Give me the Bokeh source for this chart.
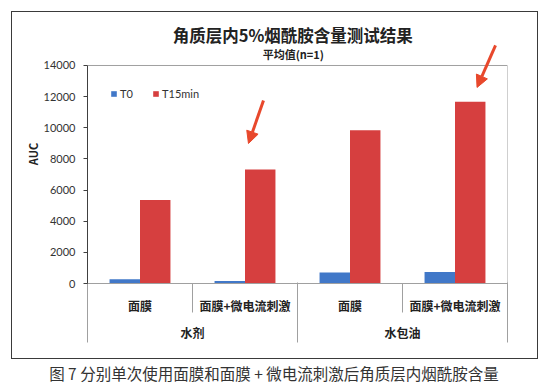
from bokeh.plotting import figure
from bokeh.models import (Range1d, LinearAxis, FixedTicker, Label, Legend, LegendItem,
                          Arrow, NormalHead, ColumnDataSource, InlineStyleSheet)
from bokeh.transform import dodge
from bokeh.embed import file_html
from bokeh.resources import INLINE

# ---------------- data ----------------
groups = ["水剂", "水包油"]
categories = ["面膜", "面膜+微电流刺激", "面膜", "面膜+微电流刺激"]
series_names = ["T0", "T15min"]
t0_values = [280, 160, 700, 740]
t15_values = [5370, 7320, 9840, 11670]
y_ticks = [0, 2000, 4000, 6000, 8000, 10000, 12000, 14000]
title_text = "角质层内5%烟酰胺含量测试结果"
subtitle_text = "平均值(n=1)"
y_label = "AUC"
caption_text = "图 7  分别单次使用面膜和面膜 + 微电流刺激后角质层内烟酰胺含量"
arrow_categories = [1, 3]

# ---------------- style ----------------
CJK = "Noto Sans CJK SC"
NUM = "Lato"
BLUE = "#4178c8"
RED = "#d63f3f"
ARROW = "#e8482c"
GRAY = "#a0a0a0"
DARK = "#404040"

n = len(categories)
y_max = y_ticks[-1]
y_top = y_max * 1.188           # headroom above the axis end (titles / arrow)
x_center = [i + 0.5 for i in range(n)]
src = ColumnDataSource(dict(x=x_center, t0=t0_values, t15=t15_values))

p = figure(width=545, height=387, x_range=Range1d(0, n), y_range=Range1d(0, y_top),
           output_backend="svg", toolbar_location=None,
           x_axis_location=None, y_axis_location=None,
           min_border_left=87, min_border_right=38, min_border_top=24, min_border_bottom=104)
p.xgrid.visible = False
p.ygrid.visible = False
p.outline_line_color = None
p.background_fill_color = "white"
p.border_fill_color = "white"

# outer chart frame
p.stylesheets = [InlineStyleSheet(css="""
:host { position: relative; }
:host::after { content: ""; position: absolute; left: 11px; top: 11px; width: 527px;
  height: 348px; border: 1.5px solid #3a3a3a; box-sizing: border-box; pointer-events: none; }
""")]

# plot-area border (top and right), ending at the axis maximum
p.segment(x0=[0, n], y0=[y_max, 0], x1=[n, n], y1=[y_max, y_max],
          line_color=GRAY, line_width=1)

bw = 0.29
r0 = p.vbar(x=dodge("x", -bw / 2, range=p.x_range), top="t0", width=bw, source=src,
            fill_color=BLUE, line_color=None)
r1 = p.vbar(x=dodge("x", bw / 2, range=p.x_range), top="t15", width=bw, source=src,
            fill_color=RED, line_color=None)

# y axis
yax = LinearAxis(ticker=FixedTicker(ticks=y_ticks), bounds=(0, y_max), axis_label=y_label,
                 axis_label_text_font=CJK, axis_label_text_font_style="bold",
                 axis_label_text_font_size="11px", axis_label_text_color="#222222",
                 axis_label_standoff=0,
                 major_label_text_font=NUM, major_label_text_font_size="11px",
                 major_label_text_color="#333333", major_label_standoff=8,
                 major_tick_in=0, major_tick_out=4, minor_tick_line_color=None,
                 axis_line_color=DARK, major_tick_line_color=DARK)
p.add_layout(yax, "left")

# category axis (inner dividers as minor ticks)
xax1 = LinearAxis(ticker=FixedTicker(ticks=x_center, minor_ticks=[1, 3]),
                  major_label_overrides={x: c for x, c in zip(x_center, categories)},
                  major_tick_in=0, major_tick_out=0,
                  minor_tick_in=0, minor_tick_out=29, minor_tick_line_color=GRAY,
                  axis_line_color=GRAY,
                  major_label_text_font=CJK, major_label_text_font_size="12px",
                  major_label_text_font_style="bold", major_label_text_color="#222222",
                  major_label_standoff=-16)
p.add_layout(xax1, "below")

# group axis (outer dividers as minor ticks)
g_centers = [1 + 2 * i for i in range(len(groups))]
xax2 = LinearAxis(ticker=FixedTicker(ticks=g_centers, minor_ticks=[0, 2, 4]),
                  major_label_overrides={x: g for x, g in zip(g_centers, groups)},
                  major_tick_in=0, major_tick_out=0,
                  minor_tick_in=34, minor_tick_out=26, minor_tick_line_color=GRAY,
                  axis_line_color=None,
                  major_label_text_font=CJK, major_label_text_font_size="12px",
                  major_label_text_font_style="bold", major_label_text_color="#222222",
                  major_label_standoff=-19)
p.add_layout(xax2, "below")

# caption (as a tick label of a bare axis below the chart)
cap_x = n * 0.448
xax3 = LinearAxis(ticker=FixedTicker(ticks=[cap_x]),
                  major_label_overrides={cap_x: caption_text},
                  major_tick_in=0, major_tick_out=0, minor_tick_line_color=None,
                  axis_line_color=None, major_tick_line_color=None,
                  major_label_text_font=CJK, major_label_text_font_size="15.5px",
                  major_label_text_color="#333333", major_label_standoff=18)
p.add_layout(xax3, "below")

# titles (inside the headroom of the plot area)
p.add_layout(Label(x=n / 2 - 0.045, y=y_max * 1.1376, text=title_text, text_align="center",
                   text_baseline="middle", text_font=CJK, text_font_size="16.5px",
                   text_font_style="bold", text_color="#222222"))
p.add_layout(Label(x=n / 2 - 0.04, y=y_max * 1.0505, text=subtitle_text, text_align="center",
                   text_baseline="middle", text_font=CJK, text_font_size="11px",
                   text_font_style="bold", text_color="#222222"))

# legend
legend = Legend(items=[LegendItem(label=series_names[0], renderers=[r0]),
                       LegendItem(label=series_names[1], renderers=[r1])],
                location=(23, 183), orientation="horizontal",
                label_text_font=NUM, label_text_font_size="11px", label_text_color="#333333",
                glyph_width=7, glyph_height=7, label_standoff=3, spacing=12,
                margin=0, padding=0, border_line_color=None, background_fill_alpha=0)
p.add_layout(legend)

# arrows (annotation pointing at the highlighted bars)
arrow_style = [(0.033, 1670, 0.176, 4430), (0.21, 920, 0.386, 3615)]
for ci, (dx1, dy1, dx0, dy0) in zip(arrow_categories, arrow_style):
    v = t15_values[ci]
    p.add_layout(Arrow(end=NormalHead(size=12, fill_color=ARROW, line_color=ARROW),
                       x_start=ci + 0.5 + dx0, y_start=v + dy0,
                       x_end=ci + 0.5 + dx1, y_end=v + dy1,
                       line_color=ARROW, line_width=3))

open("out.html", "w").write(file_html(p, INLINE))
